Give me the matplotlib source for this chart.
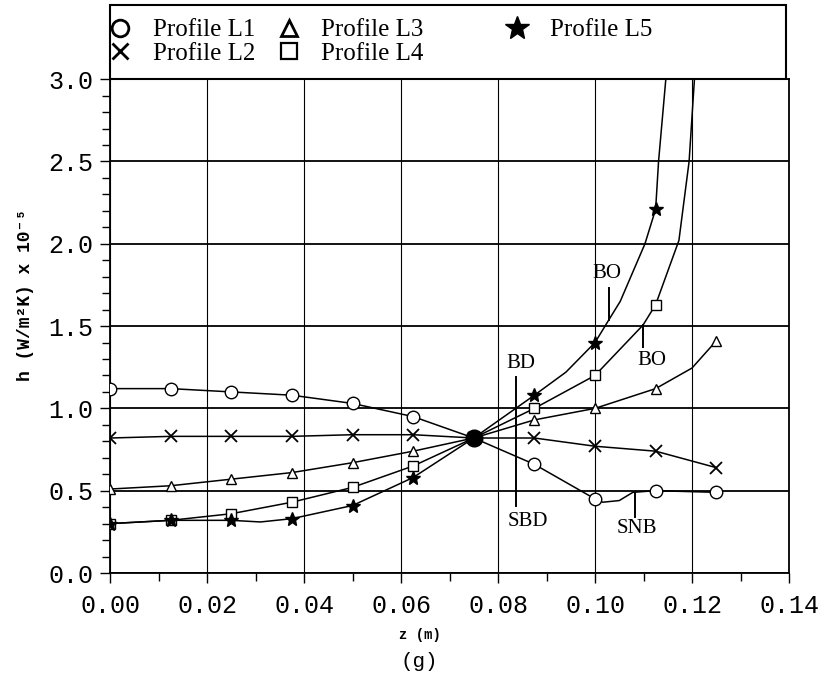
import matplotlib
matplotlib.use('Agg')
import matplotlib.pyplot as plt
from matplotlib.lines import Line2D
from matplotlib.patches import Rectangle
from matplotlib.ticker import MultipleLocator, FormatStrFormatter

# measured positions along the tube (m)
z = [0.0, 0.0125, 0.025, 0.0375, 0.05, 0.0625, 0.075, 0.0875, 0.1, 0.1125, 0.125]

# h values x 1e-5
h_L1 = [1.12, 1.12, 1.10, 1.08, 1.03, 0.95, 0.82, 0.66, 0.45, 0.50, 0.49]
h_L2 = [0.82, 0.83, 0.83, 0.83, 0.84, 0.84, 0.82, 0.82, 0.77, 0.74, 0.64]
h_L3 = [0.51, 0.53, 0.57, 0.61, 0.67, 0.74, 0.82, 0.93, 1.00, 1.12, 1.41]
h_L4 = [0.30, 0.32, 0.36, 0.43, 0.52, 0.65, 0.82, 1.00, 1.20, 1.63]
h_L5 = [0.30, 0.32, 0.32, 0.33, 0.41, 0.58, 0.82, 1.08, 1.40, 2.21]

# extra points along the drawn curves (between / beyond markers)
ext_L1_z, ext_L1_h = [0.1016, 0.105, 0.1078], [0.43, 0.44, 0.49]
ext_L3_z, ext_L3_h = [0.12], [1.245]
ext_L4_z, ext_L4_h = [0.1099, 0.1173, 0.1194, 0.1205], [1.506, 2.02, 2.5, 3.0]
ext_L5_z, ext_L5_h = [0.031, 0.094, 0.1029, 0.1052, 0.1103, 0.1131, 0.1146], \
                     [0.31, 1.22, 1.54, 1.65, 2.0, 2.5, 3.0]

# annotation marks: label, z of line, line from / to, text position
ann_text = ['BD', 'SBD', 'BO', 'BO', 'SNB']
ann_z = [0.0837, 0.0837, 0.1029, 0.1099, 0.1082]
ann_y0 = [1.19, 0.82, 1.73, 1.506, 0.486]
ann_y1 = [0.82, 0.41, 1.536, 1.372, 0.34]
ann_tx = [0.0847, 0.0862, 0.1025, 0.1118, 0.1087]
ann_ty = [1.275, 0.31, 1.82, 1.29, 0.27]

mono = ['Liberation Mono', 'DejaVu Sans Mono']
serif = ['Liberation Serif', 'DejaVu Serif']


def curve(zs, hs, ez=(), eh=()):
    pts = sorted(zip(list(zs) + list(ez), list(hs) + list(eh)))
    return [p[0] for p in pts], [p[1] for p in pts]


fig = plt.figure(figsize=(8.23, 6.85), dpi=100)
ax = fig.add_axes([0.1337, 0.1635, 0.825, 0.721])

series = [
    ('Profile L1', h_L1, ext_L1_z, ext_L1_h, dict(marker='o', mfc='white', ms=9)),
    ('Profile L2', h_L2, [], [], dict(marker='x', ms=8, mew=1.3)),
    ('Profile L3', h_L3, ext_L3_z, ext_L3_h, dict(marker='^', mfc='white', ms=7)),
    ('Profile L4', h_L4, ext_L4_z, ext_L4_h, dict(marker='s', mfc='white', ms=6.5)),
    ('Profile L5', h_L5, ext_L5_z, ext_L5_h, dict(marker='*', mfc='black', ms=10)),
]

for name, hs, ez, eh, st in series:
    cz, ch = curve(z[:len(hs)], hs, ez, eh)
    ax.plot(cz, ch, color='black', lw=1.1, zorder=3)
    ax.plot(z[:len(hs)], hs, linestyle='none', color='black', mec='black',
            zorder=4, **st)

# all profiles meet at z = 0.075: markers pile up into a black blob
ax.plot(z[6], h_L1[6], marker='o', ms=12, color='black', zorder=5)

for t, xz, y0, y1, tx, ty in zip(ann_text, ann_z, ann_y0, ann_y1, ann_tx, ann_ty):
    ax.plot([xz, xz], [y0, y1], color='black', lw=1.4, zorder=3)
    ax.text(tx, ty, t, ha='center', va='center', fontsize=15,
            family=serif, zorder=5)

ax.set_xlim(0, 0.14)
ax.set_ylim(0, 3.0)
ax.xaxis.set_major_locator(MultipleLocator(0.02))
ax.xaxis.set_minor_locator(MultipleLocator(0.01))
ax.yaxis.set_major_locator(MultipleLocator(0.5))
ax.yaxis.set_minor_locator(MultipleLocator(0.1))
ax.xaxis.set_major_formatter(FormatStrFormatter('%.2f'))
ax.yaxis.set_major_formatter(FormatStrFormatter('%.1f'))
ax.tick_params(which='both', direction='out', colors='black', width=1)
ax.tick_params(which='major', length=7, labelsize=18)
ax.tick_params(which='minor', length=6)
ax.tick_params(axis='x', which='major', pad=8)
ax.tick_params(axis='y', which='major', pad=5)
for lab in ax.get_xticklabels() + ax.get_yticklabels():
    lab.set_family(mono)

ax.grid(True, axis='y', which='major', color='black', lw=1.3)
ax.grid(True, axis='x', which='major', color='black', lw=0.8)
ax.set_axisbelow(True)
for sp in ax.spines.values():
    sp.set_linewidth(1.3)

ax.set_xlabel('z (m)', family=mono, fontweight='bold', fontsize=10)
ax.xaxis.set_label_coords(0.456, -0.112)
ax.set_ylabel('h (W/m²K) x 10⁻⁵', family=mono, fontweight='bold', fontsize=13)
ax.yaxis.set_label_coords(-0.112, 0.563)
fig.text(0.51, 0.035, '(g)', family=mono, fontsize=15, ha='center', va='center')

handles = [
    Line2D([], [], linestyle='none', marker='o', ms=12, mfc='white', mec='black', mew=2),
    Line2D([], [], linestyle='none', marker='x', ms=12, color='black', mew=2),
    Line2D([], [], linestyle='none', marker='^', ms=12, mfc='white', mec='black', mew=2),
    Line2D([], [], linestyle='none', marker='s', ms=11, mfc='white', mec='black', mew=1.6),
    Line2D([], [], linestyle='none', marker='*', ms=18, mfc='black', mec='black'),
]
labels = [s[0] for s in series]
leg_kw = dict(loc='upper left', frameon=False, borderpad=0, borderaxespad=0,
              prop={'family': serif, 'size': 18}, handlelength=0.8,
              handletextpad=0.9, labelspacing=0.05)
leg1 = ax.legend(handles[:4], labels[:4], ncol=2, columnspacing=0.95,
                 bbox_to_anchor=(0.0, 1.122), **leg_kw)
ax.add_artist(leg1)
ax.legend(handles[4:], labels[4:], bbox_to_anchor=(0.585, 1.122), **leg_kw)
ax.add_patch(Rectangle((0, 1), 0.996, 0.15, transform=ax.transAxes, fill=False,
                       ec='black', lw=1.5, clip_on=False))

fig.savefig('out.png', dpi=100)
